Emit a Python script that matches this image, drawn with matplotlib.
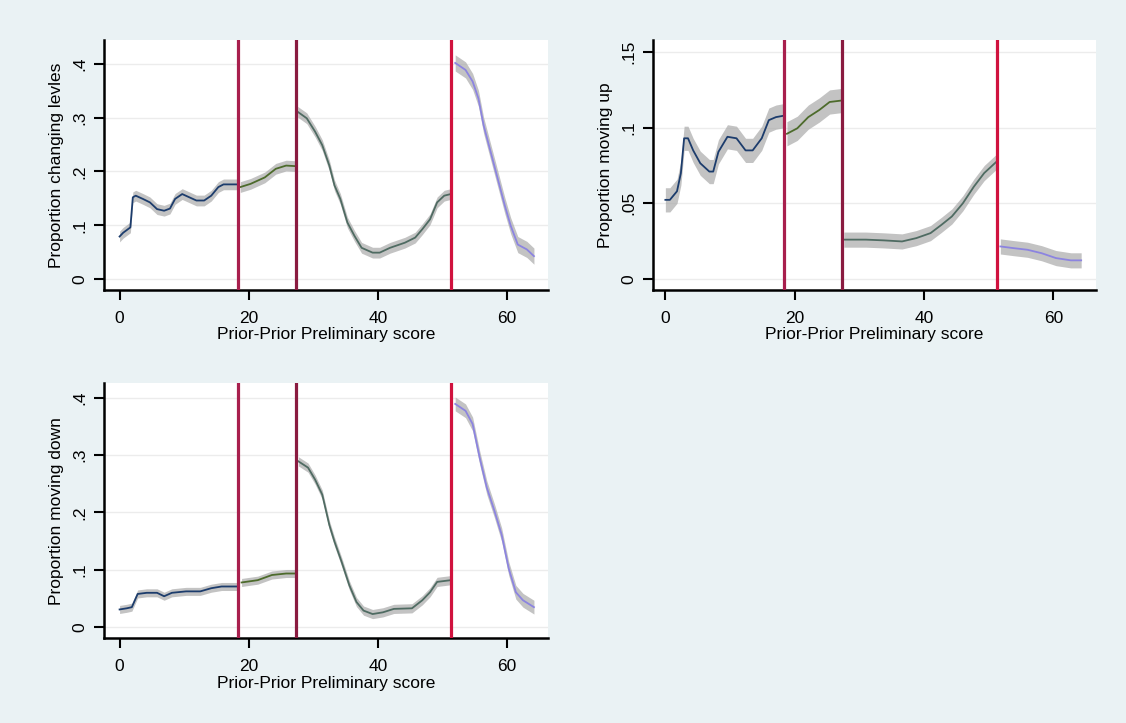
import matplotlib as mpl
mpl.use('Agg')
import matplotlib.pyplot as plt
import numpy as np

# cutoffs in the prior-prior preliminary score
cutoffs = [18.4, 27.3, 51.3]
cutoff_colors = ["#a81f4d", "#8a1b40", "#d0123e"]

# segment line colours (Stata-like)
seg_colors = ["#1c3c6c", "#4d6b2c", "#4f6b62", "#8c84e0"]

# --- Proportion changing levels ---
levels_x = [
    [0, 0.55, 1.67, 2.05, 2.5, 3.6, 4.7, 5.8, 6.9, 7.8, 8.6, 9.7, 10.8, 11.9, 13.1, 14.2, 15.3, 16.1, 18.4],
    [18.7, 20.3, 22.5, 24.2, 25.8, 27.2],
    [27.6, 29, 30.3, 31.4, 32.5, 33.3, 34.2, 35.3, 36.4, 37.5, 39.2, 40.3, 41.9, 44.2, 45.8, 46.9, 48.1, 49.2, 50.3, 51.3],
    [52.0, 53.6, 54.7, 55.6, 56.4, 57.5, 58.6, 59.7, 60.6, 61.7, 63.1, 64.2],
]
levels_y = [
    [0.079, 0.086, 0.096, 0.152, 0.155, 0.149, 0.1425, 0.13, 0.127, 0.131, 0.149, 0.158, 0.152, 0.146, 0.146, 0.155, 0.171, 0.176, 0.176],
    [0.171, 0.177, 0.189, 0.205, 0.211, 0.21],
    [0.311, 0.299, 0.274, 0.249, 0.211, 0.174, 0.149, 0.105, 0.08, 0.058, 0.049, 0.049, 0.058, 0.0675, 0.077, 0.0925, 0.111, 0.1425, 0.155, 0.158],
    [0.402, 0.389, 0.3675, 0.336, 0.286, 0.236, 0.186, 0.136, 0.099, 0.064, 0.055, 0.0425],
]
levels_ci = [0.010, 0.010, 0.010, 0.015]

# --- Proportion moving up ---
up_x = [
    [0, 0.7, 1.8, 2.4, 2.9, 3.5, 4.3, 5.4, 6.8, 7.4, 8.2, 9.6, 11, 12.4, 13.5, 14.9, 16, 17.1, 18.4],
    [18.8, 20.4, 22.1, 23.8, 25.4, 27.3],
    [27.6, 31, 33.8, 36.6, 38.8, 41, 42.7, 44.3, 46, 47.7, 49.3, 51.2],
    [51.8, 53.8, 56, 58.2, 60.4, 62.7, 64.3],
]
up_y = [
    [0.0523, 0.0523, 0.058, 0.07, 0.093, 0.093, 0.085, 0.0765, 0.071, 0.071, 0.084, 0.094, 0.093, 0.085, 0.085, 0.093, 0.105, 0.107, 0.108],
    [0.096, 0.0996, 0.107, 0.1117, 0.117, 0.118],
    [0.026, 0.026, 0.0255, 0.0248, 0.027, 0.0303, 0.0358, 0.0413, 0.05, 0.061, 0.07, 0.0775],
    [0.0215, 0.0204, 0.0193, 0.017, 0.0138, 0.0123, 0.0123],
]
up_ci = [0.008, 0.008, 0.005, 0.005]

# --- Proportion moving down ---
down_x = [
    [0, 1.1, 1.9, 2.8, 4.2, 5.8, 6.9, 8.1, 10.3, 12.5, 14.2, 15.8, 18.4],
    [18.9, 21.4, 23.6, 25.8, 27.2],
    [27.7, 29.2, 30.3, 31.4, 32.5, 33.3, 34.4, 35.6, 36.7, 37.8, 39.2, 40.8, 42.5, 45.3, 46.9, 48.1, 49.2, 51.3],
    [52.0, 53.6, 54.7, 55.8, 56.9, 58.1, 59.2, 60.3, 61.4, 62.5, 64.2],
]
down_y = [
    [0.031, 0.033, 0.035, 0.058, 0.06, 0.06, 0.054, 0.06, 0.0625, 0.0625, 0.068, 0.071, 0.071],
    [0.078, 0.082, 0.091, 0.0936, 0.0936],
    [0.289, 0.278, 0.257, 0.231, 0.178, 0.149, 0.114, 0.073, 0.044, 0.029, 0.023, 0.026, 0.032, 0.033, 0.047, 0.061, 0.079, 0.082],
    [0.389, 0.377, 0.354, 0.295, 0.243, 0.202, 0.161, 0.102, 0.061, 0.047, 0.035],
]
down_ci = [0.007, 0.007, 0.008, 0.012]

xticks = [0, 20, 40, 60]

plt.rcParams['font.family'] = ['Liberation Sans', 'DejaVu Sans']

fig = plt.figure(figsize=(11.26, 7.23), dpi=100)
fig.patch.set_facecolor("#eaf2f4")


def panel(rect, xs, ys, cis, ylabel, yticks, yticklabels, xlim, ylim):
    ax = fig.add_axes(rect)
    ax.set_facecolor("white")
    for y in yticks:
        ax.axhline(y, color="#ececec", lw=1.0, zorder=0)
    for i in range(4):
        x = np.array(xs[i])
        y = np.array(ys[i])
        ax.fill_between(x, y - cis[i], y + cis[i], color="#acacac", alpha=0.72,
                        lw=0, zorder=2)
        ax.plot(x, y, color=seg_colors[i], lw=1.3, zorder=3)
    for c, col in zip(cutoffs, cutoff_colors):
        ax.axvline(c, color=col, lw=2.3, zorder=4)
    ax.set_xlim(*xlim)
    ax.set_ylim(*ylim)
    ax.set_xticks(xticks)
    ax.set_yticks(yticks)
    ax.set_yticklabels(yticklabels, rotation=90, va="center")
    for s in ["top", "right"]:
        ax.spines[s].set_visible(False)
    for s in ["left", "bottom"]:
        ax.spines[s].set_linewidth(1.8)
        ax.spines[s].set_color("black")
    ax.tick_params(direction="out", length=7, width=1.5, labelsize=12.5, pad=5)
    ax.tick_params(axis="x", pad=8)
    ax.set_xlabel("Prior-Prior Preliminary score", fontsize=12.5, labelpad=1)
    ax.set_ylabel(ylabel, fontsize=12.5, labelpad=6)
    return ax


panel([0.0920, 0.5989, 0.3948, 0.3458], levels_x, levels_y, levels_ci,
      "Proportion changing levles", [0, 0.1, 0.2, 0.3, 0.4],
      ["0", ".1", ".2", ".3", ".4"], (-2.48, 66.4), (-0.0205, 0.4447))
panel([0.5800, 0.5989, 0.3934, 0.3458], up_x, up_y, up_ci,
      "Proportion moving up", [0, 0.05, 0.1, 0.15],
      ["0", ".05", ".1", ".15"], (-1.9, 66.6), (-0.0073, 0.158))
panel([0.0920, 0.1171, 0.3948, 0.3533], down_x, down_y, down_ci,
      "Proportion moving down", [0, 0.1, 0.2, 0.3, 0.4],
      ["0", ".1", ".2", ".3", ".4"], (-2.48, 66.4), (-0.0193, 0.4256))

fig.savefig("out.png", dpi=100, facecolor=fig.get_facecolor())
